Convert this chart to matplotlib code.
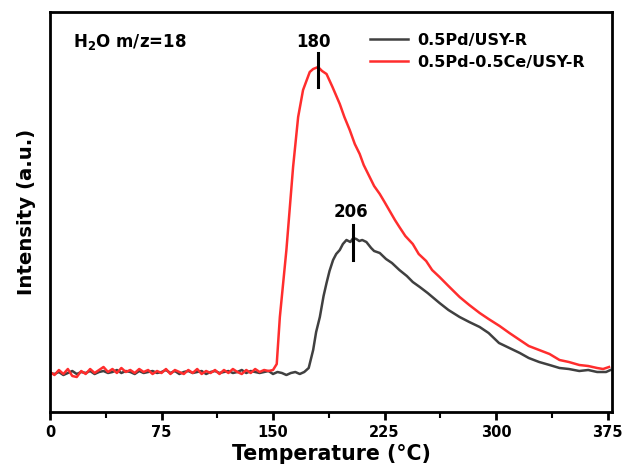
import matplotlib
matplotlib.use("Agg")
import matplotlib.pyplot as plt
import numpy as np
from matplotlib.ticker import MultipleLocator

# --- data (temperature in C, intensity in arbitrary units) ---
SERIES_NAMES = ["0.5Pd/USY-R", "0.5Pd-0.5Ce/USY-R"]

red_base_T = list(range(0, 151, 3))
red_base_I = [0, -3, 2, -2, 3, -4, -5, 1, -2, 3, -1, 2, 5, 0, 3, -1, 4, 0, 2, -1,
              3, 0, 2, -2, 1, -1, 3, -2, 2, 0, -2, 2, -1, 3, -2, 1, -1, 2, -2, 2,
              -1, 3, 0, -2, 2, -1, 3, 0, 2, 1, 2]
red_peak_T = [152.5, 154.6, 159, 163.5, 166.9, 170.2, 174.7, 177, 180.3, 183, 186,
              190, 194.9, 198, 201.6, 205, 208.3, 211, 215, 218, 221.8, 225, 228.5,
              232, 235, 239, 244, 248, 253, 257, 262, 268, 275.5, 282, 289, 295,
              302.4, 309, 316, 322, 329, 336, 342.7, 349, 356, 362, 368, 372, 376]
red_peak_I = [8, 55, 122, 205, 255, 282, 300, 303, 305, 301, 298,
              285, 268, 255, 242, 228, 218, 207, 195, 186, 178, 170, 161,
              152, 145, 136, 128, 118, 111, 102, 95, 86, 75, 67, 59, 53,
              46, 39, 32, 26, 22, 18, 12, 10, 7, 6, 4, 3, 5]

black_base_T = list(range(0, 172, 3))
black_base_I = [-1, -2, 0, -3, -1, 1, -2, 0, -1, 1, -2, 0, 1, -1, 0, 2, -1, 1, 0, -2,
                1, -1, 0, 1, -1, 0, 2, -1, 1, -2, 0, 1, -1, 0, 1, -2, 0, 1, -1, 0,
                1, -1, 0, 2, -1, 1, 0, -1, 0, 1, -2, 0, -1, -3, -1, 0, -2, 0]
black_peak_T = [174, 177, 179, 181.5, 184, 186, 188, 190.4, 192.5, 194.9, 197,
                199.4, 202, 204, 206, 208, 210, 212.8, 216, 218, 221.8, 226, 230,
                235, 240, 244, 248.7, 254, 258, 262, 268, 275.5, 282, 289, 295,
                302, 309, 316, 322, 329, 336, 342.7, 349, 356, 362, 368, 374, 377]
black_peak_I = [4, 22, 40, 55, 76, 89, 101, 112, 118, 122, 128,
                132, 130, 134, 133, 131, 132, 130, 124, 121, 119, 113, 109,
                102, 96, 90, 85, 79, 74, 69, 62, 55, 50, 45, 39,
                29, 24, 19, 14, 10, 7, 4, 3, 1, 2, 0, 0, 2]

peak_positions = [180, 204]
peak_labels = ["180", "206"]
peak_label_x = [177, 202.5]
peak_marker_lo = [285, 112]
peak_marker_hi = [319, 147]
peak_label_y = [321, 151]

# --- figure ---
plt.rcParams['font.family'] = ['DejaVu Sans']
plt.rcParams['font.weight'] = 'bold'
plt.rcParams['mathtext.fontset'] = 'custom'
plt.rcParams['mathtext.rm'] = 'DejaVu Sans:bold'
plt.rcParams['mathtext.bf'] = 'DejaVu Sans:bold'

fig = plt.figure(figsize=(6.23, 4.69), dpi=100)
ax = fig.add_axes([50 / 623, 57 / 469, 562 / 623, 400 / 469])

black_T = black_base_T + black_peak_T
black_I = black_base_I + black_peak_I
red_T = red_base_T + red_peak_T
red_I = red_base_I + red_peak_I

ax.plot(black_T, black_I, color='#404040', linewidth=1.8, label=SERIES_NAMES[0])
ax.plot(red_T, red_I, color='#ff2d2d', linewidth=1.8, label=SERIES_NAMES[1])

for x, lx, lab, lo, hi, ly in zip(peak_positions, peak_label_x, peak_labels,
                                  peak_marker_lo, peak_marker_hi, peak_label_y):
    ax.plot([x, x], [lo, hi], color='black', linewidth=2.2)
    ax.text(lx, ly, lab, ha='center', va='bottom', fontsize=12, fontweight='bold')

ax.text(0.041, 0.925, r'H$_2$O m/z=18', transform=ax.transAxes, fontsize=12,
        fontweight='bold', va='center', ha='left')

ax.set_xlim(0, 378)
ax.set_ylim(-40, 360)
ax.xaxis.set_major_locator(MultipleLocator(75))
ax.xaxis.set_minor_locator(MultipleLocator(37.5))
ax.tick_params(axis='x', which='major', direction='out', length=6, width=2, labelsize=10.5)
ax.tick_params(axis='x', which='minor', direction='out', length=4, width=1.5)
ax.set_yticks([])
for s in ax.spines.values():
    s.set_linewidth(2)

ax.set_xlabel('Temperature (°C)', fontsize=14.8, fontweight='bold', labelpad=3)
ax.set_ylabel('Intensity (a.u.)', fontsize=14.2, fontweight='bold', labelpad=10)

leg = ax.legend(loc='upper left', bbox_to_anchor=(0.569, 0.948), frameon=False,
                fontsize=11.5, handlelength=2.4, labelspacing=0.45, handletextpad=0.6,
                borderaxespad=0, borderpad=0)

fig.savefig('out.png', dpi=100)
